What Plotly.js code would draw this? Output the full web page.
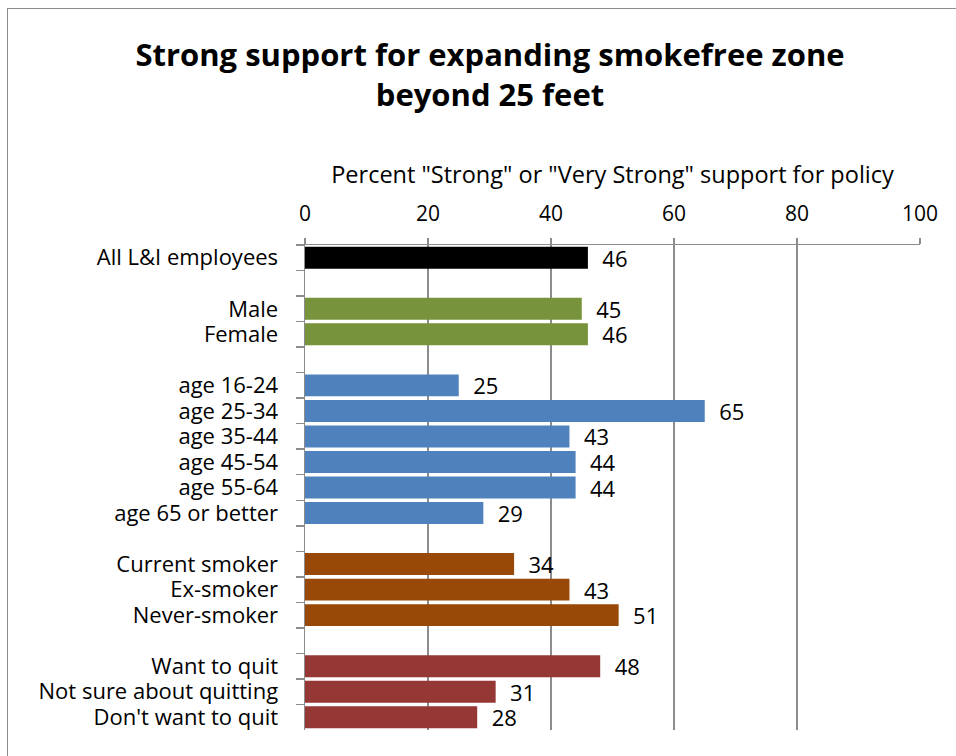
<!DOCTYPE html>
<html>
<head>
<meta charset="utf-8">
<script src="https://cdn.plot.ly/plotly-3.0.1.min.js"></script>
<style>
html,body{margin:0;padding:0;overflow:hidden;background:#fff;}
#wrap{position:relative;width:956px;height:756px;overflow:hidden;}
#chart{width:956px;height:756px;}
#frame{position:absolute;left:7px;top:8px;width:1000px;height:1000px;border:1.5px solid #8c8c8c;pointer-events:none;}
</style>
</head>
<body>
<div id="wrap"><div id="chart"></div><div id="frame"></div></div>
<script>
// Data
const allLabels = ["All L&I employees"];
const allValues = [46];
const sexLabels = ["Male", "Female"];
const sexValues = [45, 46];
const ageLabels = ["age 16-24", "age 25-34", "age 35-44", "age 45-54", "age 55-64", "age 65 or better"];
const ageValues = [25, 65, 43, 44, 44, 29];
const smokerLabels = ["Current smoker", "Ex-smoker", "Never-smoker"];
const smokerValues = [34, 43, 51];
const quitLabels = ["Want to quit", "Not sure about quitting", "Don't want to quit"];
const quitValues = [48, 31, 28];
const xTicks = [0, 20, 40, 60, 80, 100];

const groupLabels = [allLabels, sexLabels, ageLabels, smokerLabels, quitLabels];
const groupValues = [allValues, sexValues, ageValues, smokerValues, quitValues];
const groupColors = ["#000000", "#77933C", "#4F81BD", "#984807", "#953735"];

// Category order with blank spacer rows between groups
const categoryOrder = [];
groupLabels.forEach((lbls, i) => {
  if (i > 0) categoryOrder.push(" ".repeat(i));
  lbls.forEach(l => categoryOrder.push(l));
});

const FONT = "'Open Sans', sans-serif";

const traces = groupLabels.map((lbls, i) => ({
  type: "bar",
  orientation: "h",
  y: lbls,
  x: groupValues[i],
  marker: {color: groupColors[i], line: {width: 0}},
  text: groupValues[i].map(v => "  " + v),
  textposition: "outside",
  constraintext: "none",
  cliponaxis: false,
  textfont: {family: FONT, size: 22, color: "#000"},
  hoverinfo: "x+y",
  showlegend: false
}));

const layout = {
  width: 956,
  height: 756,
  margin: {l: 305, r: 36, t: 245, b: 26},
  paper_bgcolor: "#ffffff",
  plot_bgcolor: "#ffffff",
  bargap: 0.14,
  font: {family: FONT, size: 20, color: "#000"},
  title: {
    text: "<b>Strong support for expanding smokefree zone<br>beyond 25 feet</b>",
    font: {family: FONT, size: 31, color: "#000"},
    x: 490 / 956, xanchor: "center", xref: "container",
    y: 1 - 66 / 756, yanchor: "top", yref: "container"
  },
  xaxis: {
    side: "top",
    range: [0, 100],
    tickvals: xTicks,
    ticktext: xTicks.map(String),
    showgrid: true,
    gridcolor: "#8c8c8c",
    gridwidth: 1.5,
    zeroline: false,
    showline: true,
    linecolor: "#8c8c8c",
    linewidth: 1.5,
    ticks: "outside",
    ticklen: 6,
    tickcolor: "#8c8c8c",
    tickwidth: 1.5,
    tickfont: {family: FONT, size: 21, color: "#000"},
    ticklabelstandoff: 8,
    title: {
      text: "Percent \"Strong\" or \"Very Strong\" support for policy",
      font: {family: FONT, size: 23.5, color: "#000"},
      standoff: 9
    },
    fixedrange: true
  },
  yaxis: {
    type: "category",
    categoryorder: "array",
    categoryarray: categoryOrder,
    autorange: "reversed",
    tickmode: "linear",
    tick0: 0,
    dtick: 1,
    tickson: "boundaries",
    ticks: "outside",
    ticklen: 8,
    tickcolor: "#8c8c8c",
    tickwidth: 1.5,
    showline: true,
    linecolor: "#8c8c8c",
    linewidth: 1.5,
    showgrid: false,
    zeroline: false,
    tickfont: {family: FONT, size: 22, color: "#000"},
    ticklabelstandoff: 21,
    fixedrange: true
  }
};

Plotly.newPlot("chart", traces, layout, {displayModeBar: false, staticPlot: true});
</script>
</body>
</html>
